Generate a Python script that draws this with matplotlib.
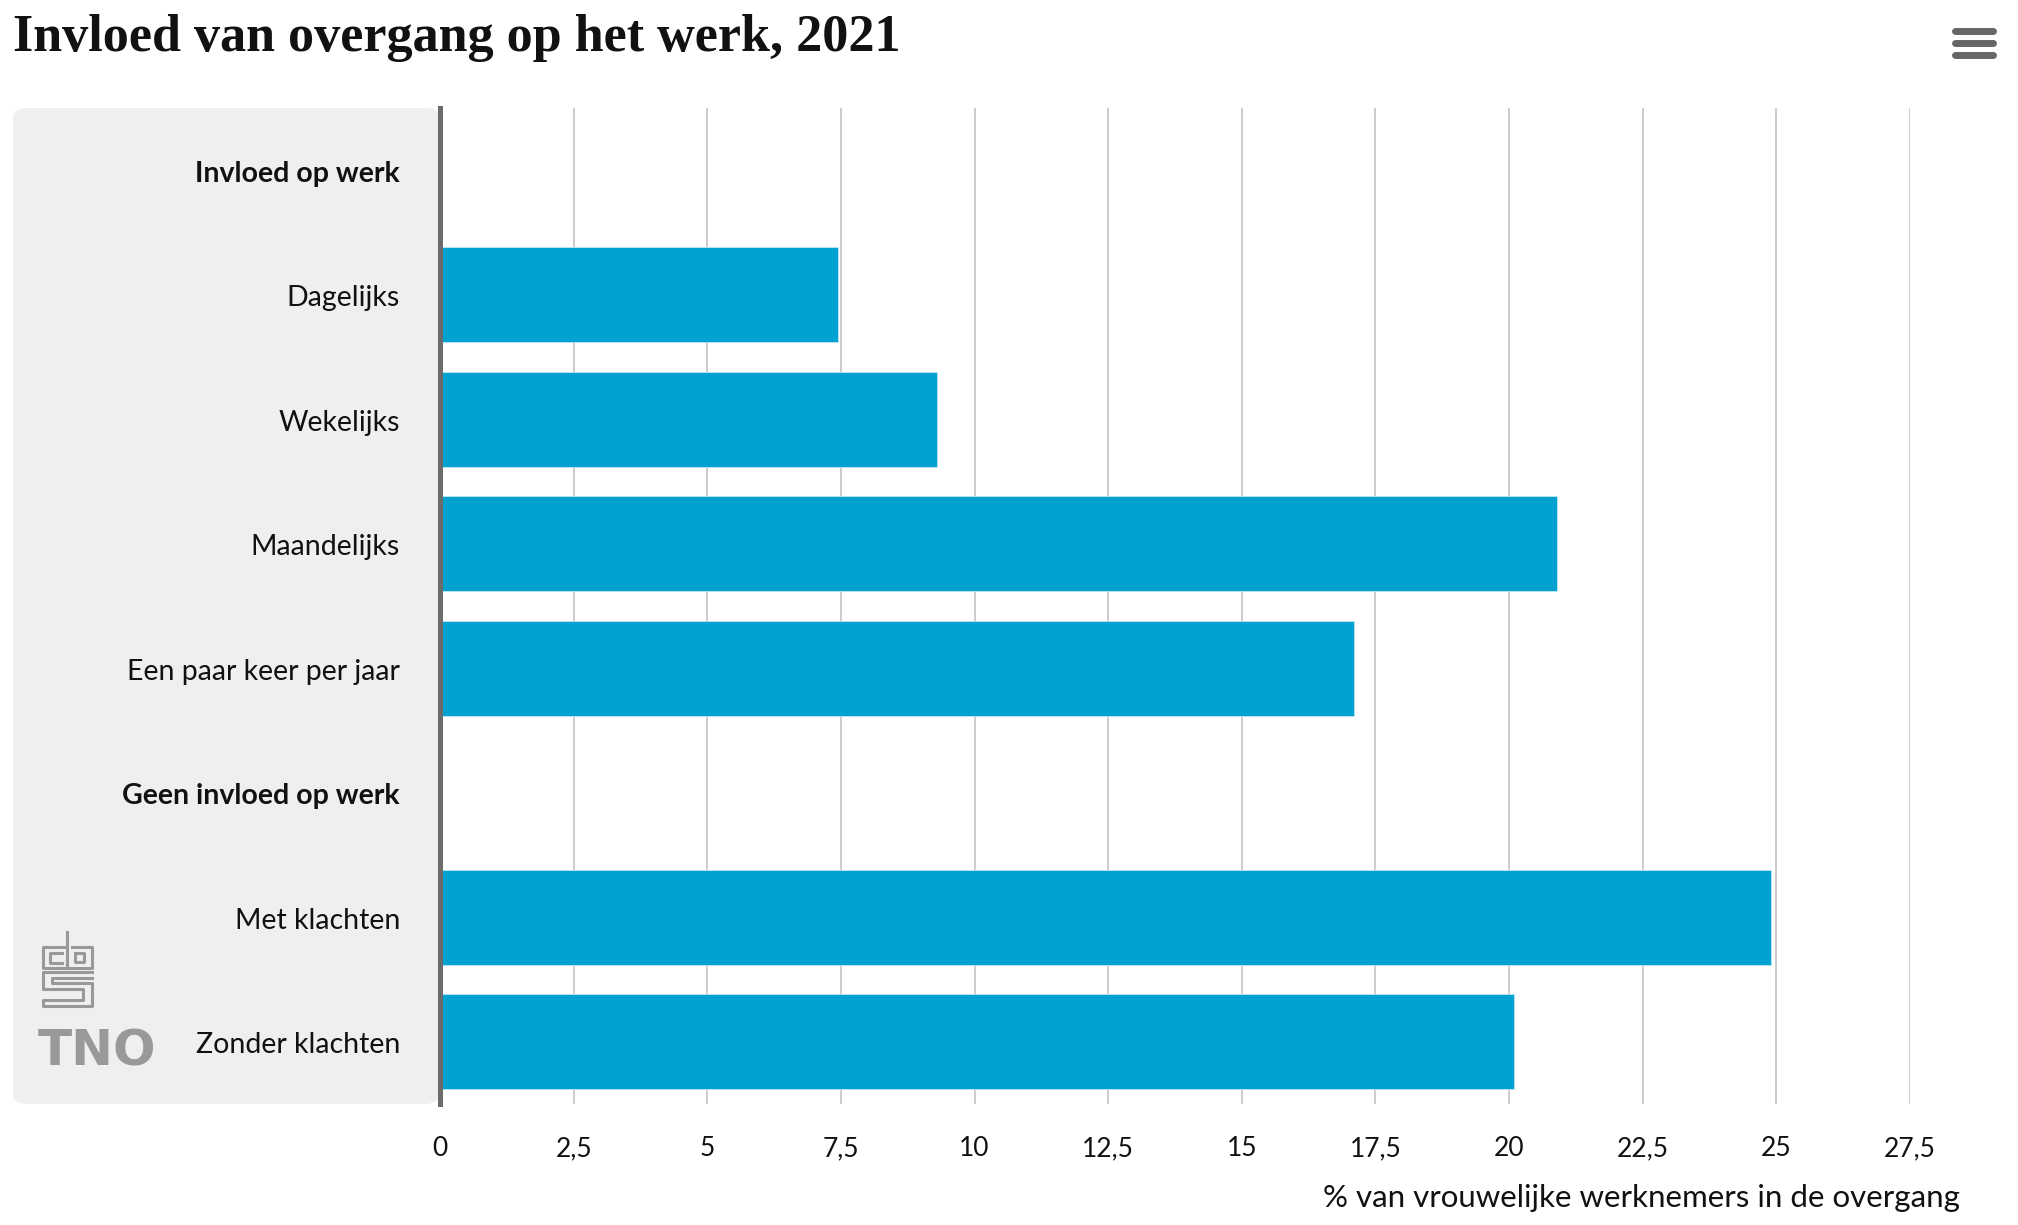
import matplotlib
matplotlib.use("Agg")
import matplotlib.pyplot as plt
from matplotlib import font_manager
from matplotlib.patches import FancyBboxPatch
from matplotlib.lines import Line2D

# ---------------- data ----------------
categories = ["Invloed op werk", "Dagelijks", "Wekelijks", "Maandelijks",
              "Een paar keer per jaar", "Geen invloed op werk",
              "Met klachten", "Zonder klachten"]
is_header = [True, False, False, False, False, True, False, False]
values = [None, 7.45, 9.3, 20.9, 17.1, None, 24.9, 20.1]
xticks = [0, 2.5, 5, 7.5, 10, 12.5, 15, 17.5, 20, 22.5, 25, 27.5]
xtick_labels = ["0", "2,5", "5", "7,5", "10", "12,5", "15", "17,5",
                "20", "22,5", "25", "27,5"]
title = "Invloed van overgang op het werk, 2021"
xlabel = "% van vrouwelijke werknemers in de overgang"

# ---------------- fonts ----------------
available = {f.name for f in font_manager.fontManager.ttflist}
def pick(*names):
    for n in names:
        if n in available:
            return n
    return "DejaVu Sans"

sans = pick("Liberation Sans Narrow", "DejaVu Sans Condensed", "Lato", "Open Sans")
serif = pick("DejaVu Serif Condensed", "Liberation Serif", "DejaVu Serif")

W, H = 2018, 1225
fig = plt.figure(figsize=(W / 100, H / 100), dpi=100)
fig.patch.set_facecolor("white")

def fx(px):
    return px / W
def fy(py):
    return 1 - py / H

left, right, top, bottom = 440, 1910, 108, 1104

# grey panel behind the category labels (drawn under the axes)
panel = FancyBboxPatch((fx(13), fy(bottom)), fx(left) - fx(13), fy(top) - fy(bottom),
                       boxstyle="round,pad=0,rounding_size=0.008",
                       transform=fig.transFigure, facecolor="#efefef",
                       edgecolor="none", zorder=-5)
fig.patches.append(panel)

ax = fig.add_axes([fx(left), fy(bottom), fx(right) - fx(left), fy(top) - fy(bottom)])
ax.set_facecolor("none")
ax.set_zorder(2)

bar_color = "#00a2cf"
ypos = list(range(len(categories)))
for y, v in zip(ypos, values):
    if v is not None:
        ax.barh(y, v, height=0.76, color=bar_color, edgecolor="#bfe6f2",
                linewidth=0.6, zorder=3)

ax.set_xlim(0, 27.5)
ax.set_ylim(len(categories) - 0.5, -0.5)
ax.set_xticks(xticks)
ax.set_xticklabels(xtick_labels, fontsize=19, family=sans, color="#111111")
ax.tick_params(axis="x", length=0, pad=23)
ax.set_yticks(ypos)
ax.set_yticklabels([])
ax.tick_params(axis="y", length=0)
for y, c, hdr in zip(ypos, categories, is_header):
    ax.text(-40 / (right - left) * 27.5, y + 0.03, c, ha="right", va="center",
            fontsize=20.5, family=sans, fontweight="bold" if hdr else "normal",
            color="#111111", clip_on=False)

ax.grid(axis="x", color="#cccccc", linewidth=1.4, zorder=1)
ax.set_axisbelow(True)
for s in ["top", "right", "bottom"]:
    ax.spines[s].set_visible(False)
ax.spines["left"].set_color("#6b6b6b")
ax.spines["left"].set_linewidth(3.6)
ax.spines["left"].set_zorder(5)

fig.text(fx(1960), fy(1198), xlabel, ha="right", va="center",
         fontsize=22.5, family=sans, color="#111111")

# title
fig.text(fx(13), fy(51), title, ha="left", va="baseline", fontsize=37.5,
         family=serif, fontweight="bold", color="#111111")

# hamburger menu
for yy in (31, 43, 55):
    fig.add_artist(Line2D([fx(1955), fx(1993)], [fy(yy), fy(yy)], color="#666666",
                          linewidth=5, solid_capstyle="round"))

# cbs logo (simplified)
def zpt(zx, zy):
    return fx(zx / 3), fy(900 + zy / 3)
logo_paths = [
    [(200, 140), (130, 140), (130, 205), (200, 205)],
    [(185, 160), (150, 160), (150, 188), (185, 188)],
    [(200, 97), (200, 205), (275, 205), (275, 140), (215, 140)],
    [(225, 158), (252, 158), (252, 186), (225, 186), (225, 158)],
    [(275, 215), (130, 215), (130, 268), (250, 268), (250, 300), (130, 300), (130, 318), (275, 318), (275, 248), (155, 248), (155, 235), (275, 235)],
]
for path in logo_paths:
    xs, ys = zip(*[zpt(a, b) for a, b in path])
    fig.add_artist(Line2D(xs, ys, color="#999999", linewidth=2.2))

# TNO logo
fig.text(fx(97), fy(1052), "TNO", ha="center", va="center", fontsize=36,
         family="DejaVu Sans", fontweight="heavy", color="#999999")

fig.savefig("out.png", dpi=100, facecolor="white")
